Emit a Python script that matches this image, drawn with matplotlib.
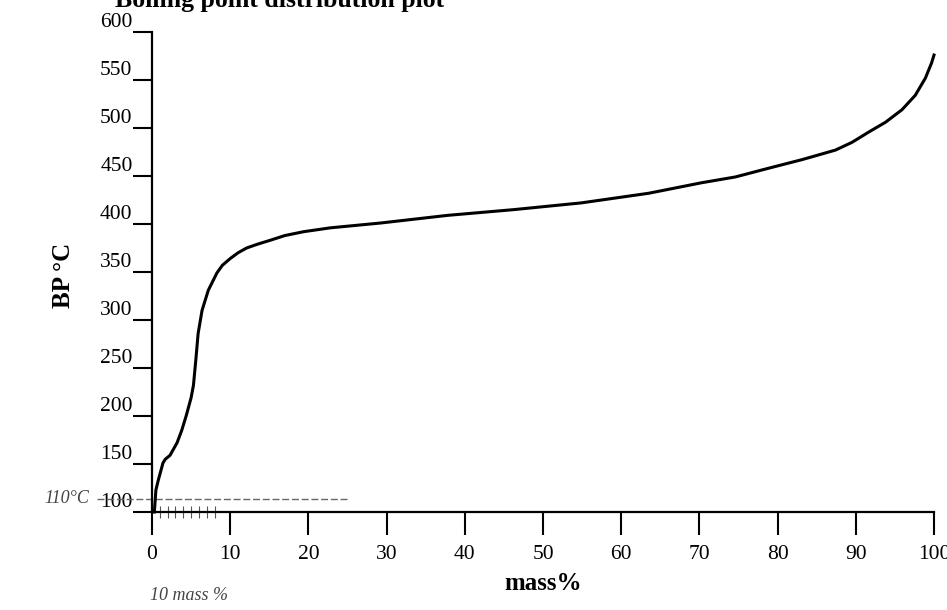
import matplotlib
matplotlib.use("Agg")
import matplotlib.pyplot as plt

# boiling point distribution
mass = [0.3, 0.5, 0.8, 1.4, 1.7, 2.3, 3.2, 3.8, 4.4, 5.0, 5.3, 5.6, 5.9, 6.4, 7.2, 8.3,
        9.0, 10.0, 11.0, 12.1, 13.5, 15.1, 17.0, 19.4, 22.8, 29.2, 37.8, 46.3, 54.9,
        63.5, 70.3, 74.6, 78.8, 83.1, 87.4, 89.5, 91.7, 93.8, 95.9, 97.6, 98.9, 99.7, 100.0]
bp = [100, 123, 133, 151, 155, 159, 172, 185, 201, 219, 232, 258, 286, 310, 331, 349,
      357, 364, 370, 375, 379, 383, 388, 392, 396, 401, 409, 415, 422,
      432, 443, 449, 458, 467, 477, 485, 496, 506, 519, 534, 552, 568, 576]

xticks = [0, 10, 20, 30, 40, 50, 60, 70, 80, 90, 100]
yticks = [100, 150, 200, 250, 300, 350, 400, 450, 500, 550, 600]

# handwritten notes on the scan
note_level = 114
note_minor = [1, 2, 3, 4, 5, 6, 7, 8]

plt.rcParams["font.family"] = ["Liberation Serif", "DejaVu Serif"]

fig = plt.figure(figsize=(9.47, 6.1), dpi=100)
ax = fig.add_axes([152/947, 1 - 512/610, (934 - 152)/947, (512 - 32)/610])

ax.plot(mass, bp, color="black", linewidth=2.2, clip_on=False, zorder=3)

# axes look like the old spreadsheet output
ax.set_xlim(0, 100)
ax.set_ylim(100, 600)
ax.spines["top"].set_visible(False)
ax.spines["right"].set_visible(False)
ax.spines["left"].set_linewidth(1.6)
ax.spines["bottom"].set_linewidth(1.6)

ax.set_xticks(xticks)
ax.set_yticks(yticks)
ax.tick_params(axis="y", direction="out", length=14, width=1.5, pad=0, labelsize=15.5)
ax.tick_params(axis="x", direction="out", length=16.5, width=1.5, pad=7, labelsize=15.5)
for lbl in ax.get_yticklabels():
    lbl.set_verticalalignment("bottom")

# handwritten marks, drawn faint
ax.set_xticks(note_minor, minor=True)
ax.tick_params(axis="x", which="minor", direction="inout", length=9, width=0.8, color="#555555")
ax.plot([-7, 25], [note_level, note_level], color="#666666", linewidth=1.0,
        linestyle=(0, (5, 2)), clip_on=False)
ax.text(-8, note_level, "110°C", ha="right", va="center", fontsize=13,
        style="italic", color="#444444")
fig.text(150/947, 1 - 600/610, "10 mass %", fontsize=13, style="italic", color="#444444")

ax.set_xlabel("mass%", fontsize=18, fontweight="bold", labelpad=6)
ax.set_ylabel("BP °C", fontsize=18, fontweight="bold")
ax.yaxis.set_label_coords(-(152 - 75)/782, (512 - 275)/480)

fig.text(115/947, 1 - 7/610, "Boiling point distribution plot", fontsize=18.5,
         fontweight="bold", va="baseline")

fig.savefig("out.png", dpi=100)
